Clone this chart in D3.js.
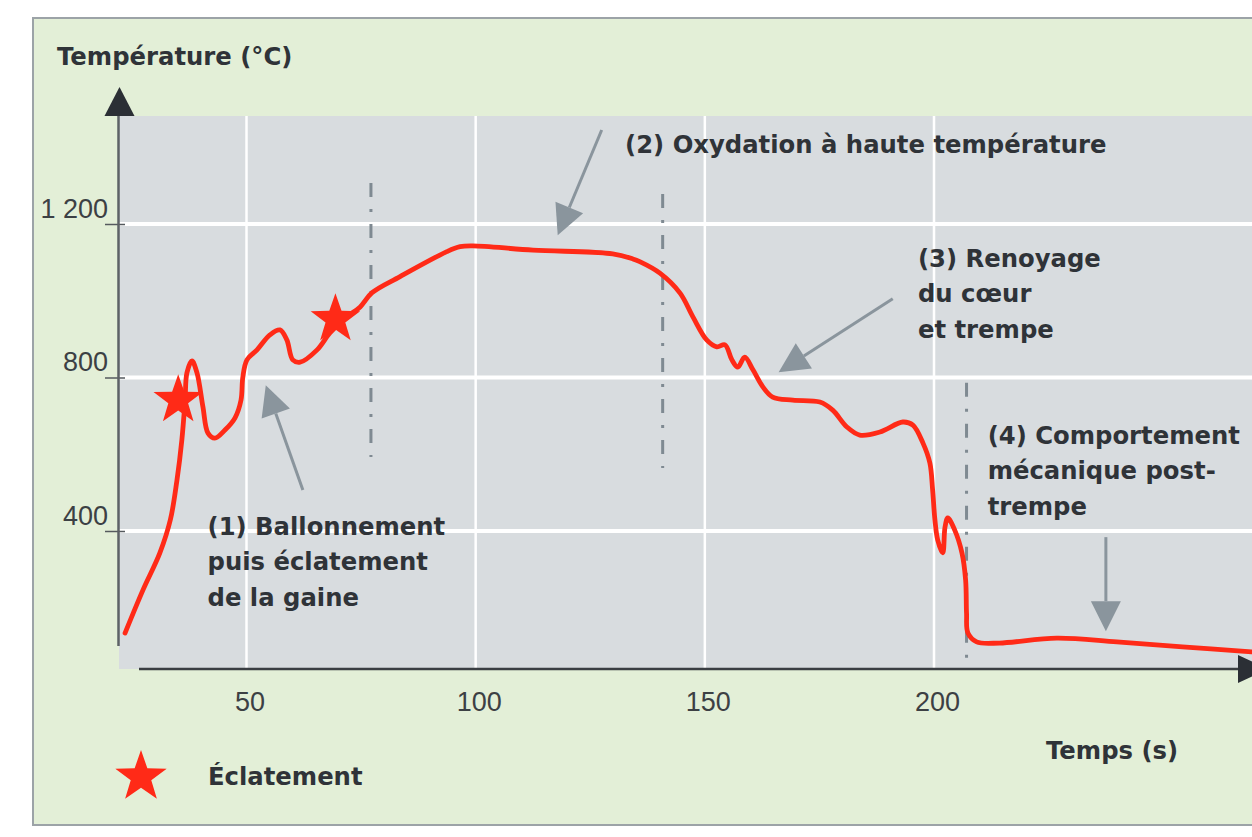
<!DOCTYPE html>
<html>
<head>
<meta charset="utf-8">
<script src="https://cdn.jsdelivr.net/npm/d3@7"></script>
<style>
  body { margin: 0; background: #fff; }
  svg { display: block; }
  .note, .title { font-family: "DejaVu Sans", sans-serif; font-weight: bold; font-size: 24.3px; fill: #2f3338; }
  .tick text { font-family: "Liberation Sans", Arial, sans-serif; font-size: 27px; fill: #3c4044; }
</style>
</head>
<body>
<svg id="chart" width="1252" height="837"></svg>
<script>
// Curve: time (s) and temperature (°C)
var curveTime = [23.5, 27.4, 31.1, 33.4, 34.8, 35.9, 36.6, 37.0, 38.1, 39.2,
  40.5, 41.6, 43.1, 45.3, 47.5, 48.8, 49.2, 50.1, 52.3, 55.1,
  57.3, 58.8, 60.1, 61.7, 65.4, 68.2, 71.9, 74.8, 77.4, 83.5,
  93.7, 96.6, 99.4, 112.5, 129.9, 134.3, 135.8, 140.2, 144.6, 147.4,
  150.4, 152.6, 154.4, 155.9, 157.2, 158.7, 160.5, 162.7, 164.8, 169.2,
  175.1, 177.9, 181.0, 183.8, 188.2, 193.2, 195.4, 197.6, 199.1, 199.7,
  200.2, 200.8, 201.9, 202.4, 203.0, 204.5, 206.1, 206.9, 207.1, 207.4,
  209.3, 214.3, 226.8, 239.9, 254.2, 269.3];
var curveTemp = [134, 246, 343, 430, 530, 638, 741, 812, 843, 812,
  723, 655, 642, 663, 695, 741, 801, 846, 872, 911,
  924, 898, 846, 840, 872, 916, 958, 984, 1021, 1063,
  1128, 1141, 1143, 1132, 1122, 1109, 1102, 1072, 1020, 958,
  898, 880, 885, 846, 827, 853, 820, 775, 749, 741,
  736, 715, 671, 650, 658, 684, 676, 629, 577, 507,
  429, 377, 343, 410, 434, 403, 343, 272, 186, 134,
  111, 108, 121, 111, 98, 85];

// Éclatement (burst) points
var burstTime = [35.1, 69.4];
var burstTemp = [741, 952];

// axis ticks
var xTicks = [50, 100, 150, 200];
var yTicks = [400, 800, 1200];
var yTickLabels = ["400", "800", "1\u00a0200"];

// dash-dot phase boundaries: time, top and bottom temperature
var phaseTime = [77.15, 140.8, 207.1];
var phaseTop = [1307, 1278, 786];
var phaseBottom = [593, 564, 69];

// phase annotations (text start and arrows in data units)
var noteLines = [
  ["(1) Ballonnement", "puis éclatement", "de la gaine"],
  ["(2) Oxydation à haute température"],
  ["(3) Renoyage", "du cœur", "et trempe"],
  ["(4) Comportement", "mécanique post-", "trempe"]
];
var noteAt = [[41.5, 390], [132.6, 1385], [196.5, 1088], [211.7, 627]];
var arrowFrom = [[62.3, 507], [127.5, 1445], [191, 1005], [237.5, 384]];
var arrowTo = [[54.2, 780], [117.9, 1171], [166.1, 814], [237.5, 139]];

var W = 1252;
var red = "#ff2a17", grayMark = "#8a959d";

var svg = d3.select("#chart");

// scales
var x = d3.scaleLinear().domain([50, 200]).range([246.5, 934]);
var y = d3.scaleLinear().domain([400, 1200]).range([531, 224]);

var plotL = 119, plotT = 116, plotB = 669;

// outer frame
svg.append("rect")
  .attr("x", 33).attr("y", 18)
  .attr("width", 1260).attr("height", 807)
  .attr("fill", "#e3efd7")
  .attr("stroke", "#9ca3a7").attr("stroke-width", 2);

// plot background
svg.append("rect")
  .attr("x", plotL).attr("y", plotT)
  .attr("width", W - plotL + 10).attr("height", plotB - plotT)
  .attr("fill", "#d8dcdf");

// white grid
svg.selectAll("vgrid")
  .data(xTicks)
  .enter()
  .append("line")
    .attr("x1", function(d){ return x(d) }).attr("x2", function(d){ return x(d) })
    .attr("y1", plotT).attr("y2", plotB)
    .attr("stroke", "#fff").attr("stroke-width", 2.5);

svg.selectAll("hgrid")
  .data(yTicks)
  .enter()
  .append("line")
    .attr("x1", plotL).attr("x2", W + 10)
    .attr("y1", function(d){ return y(d) }).attr("y2", function(d){ return y(d) })
    .attr("stroke", "#fff").attr("stroke-width", 4);

// dash-dot phase lines
svg.selectAll("phase")
  .data(phaseTime)
  .enter()
  .append("line")
    .attr("x1", function(d){ return x(d) }).attr("x2", function(d){ return x(d) })
    .attr("y1", function(d, i){ return y(phaseTop[i]) })
    .attr("y2", function(d, i){ return y(phaseBottom[i]) })
    .attr("stroke", "#7f8a92").attr("stroke-width", 3)
    .attr("stroke-dasharray", "14,12,3,12");

// y axis: ticks + labels through d3.axisLeft
var yAxis = svg.append("g")
  .attr("transform", "translate(125,0)")
  .call(d3.axisLeft(y).tickValues(yTicks)
    .tickFormat(function(d, i){ return yTickLabels[i] })
    .tickSize(20).tickPadding(-3));
yAxis.select(".domain").remove();
yAxis.selectAll(".tick line").attr("stroke", "#555a5e").attr("stroke-width", 1.5);
yAxis.selectAll(".tick text").attr("dy", "-0.25em");

// x axis labels
var xAxis = svg.append("g")
  .attr("transform", "translate(0," + plotB + ")")
  .call(d3.axisBottom(x).tickValues(xTicks).tickSize(0).tickPadding(23));
xAxis.select(".domain").remove();
xAxis.selectAll(".tick text").attr("dx", 3);

// axis lines and arrow heads
svg.append("line")
  .attr("x1", 118.5).attr("x2", 118.5).attr("y1", plotT).attr("y2", 646)
  .attr("stroke", "#5d6266").attr("stroke-width", 2.5);
svg.append("path")
  .attr("d", "M119.5,87L104.5,116L134.5,116Z")
  .attr("fill", "#2b2f35");
svg.append("line")
  .attr("x1", 139).attr("x2", 1240).attr("y1", plotB).attr("y2", plotB)
  .attr("stroke", "#3a3e42").attr("stroke-width", 2.5);
svg.append("path")
  .attr("d", "M1238," + (plotB - 14) + "L1268," + plotB + "L1238," + (plotB + 14) + "Z")
  .attr("fill", "#2b2f35");

// gray arrows
function arrow(from, to) {
  var x0 = x(from[0]), y0 = y(from[1]), x1 = x(to[0]), y1 = y(to[1]);
  var a = Math.atan2(y1 - y0, x1 - x0), L = 30, hw = 15;
  var bx = x1 - L * Math.cos(a), by = y1 - L * Math.sin(a);
  svg.append("line")
    .attr("x1", x0).attr("y1", y0).attr("x2", bx).attr("y2", by)
    .attr("stroke", grayMark).attr("stroke-width", 3);
  svg.append("path")
    .attr("d", "M" + x1 + "," + y1 +
      "L" + (bx - hw * Math.sin(a)) + "," + (by + hw * Math.cos(a)) +
      "L" + (bx + hw * Math.sin(a)) + "," + (by - hw * Math.cos(a)) + "Z")
    .attr("fill", grayMark);
}
arrowFrom.forEach(function(f, i){ arrow(f, arrowTo[i]) });

// temperature curve
var line = d3.line()
  .x(function(d){ return x(d) })
  .y(function(d, i){ return y(curveTemp[i]) })
  .curve(d3.curveCatmullRom.alpha(0.5));

svg.append("path")
  .attr("d", line(curveTime))
  .attr("fill", "none")
  .attr("stroke", red).attr("stroke-width", 4.8)
  .attr("stroke-linejoin", "round").attr("stroke-linecap", "round");

// stars
function starPath(R) {
  var pts = [];
  for (var i = 0; i < 10; i++) {
    var a = -Math.PI / 2 + i * Math.PI / 5, r = i % 2 ? R * 0.4 : R;
    pts.push([r * Math.cos(a), r * Math.sin(a)]);
  }
  return "M" + pts.join("L") + "Z";
}

svg.selectAll("burst")
  .data(burstTime)
  .enter()
  .append("path")
    .attr("d", starPath(26))
    .attr("transform", function(d, i){ return "translate(" + x(d) + "," + y(burstTemp[i]) + ")" })
    .attr("fill", red);

// annotation texts
noteLines.forEach(function(lines, i){
  var t = svg.append("text")
    .attr("class", "note")
    .attr("x", x(noteAt[i][0]))
    .attr("y", y(noteAt[i][1]));
  lines.forEach(function(s, j){
    t.append("tspan")
      .attr("x", x(noteAt[i][0]))
      .attr("dy", j === 0 ? 0 : 35.5)
      .text(s);
  });
});

// axis titles
svg.append("text").attr("class", "title").attr("x", 57).attr("y", 65).text("Température (°C)");
svg.append("text").attr("class", "title").attr("x", 1046).attr("y", 759).text("Temps (s)");

// legend
svg.append("path")
  .attr("d", starPath(27))
  .attr("transform", "translate(141,777)")
  .attr("fill", red);
svg.append("text").attr("class", "title").attr("x", 208).attr("y", 785).text("Éclatement");
</script>
</body>
</html>
